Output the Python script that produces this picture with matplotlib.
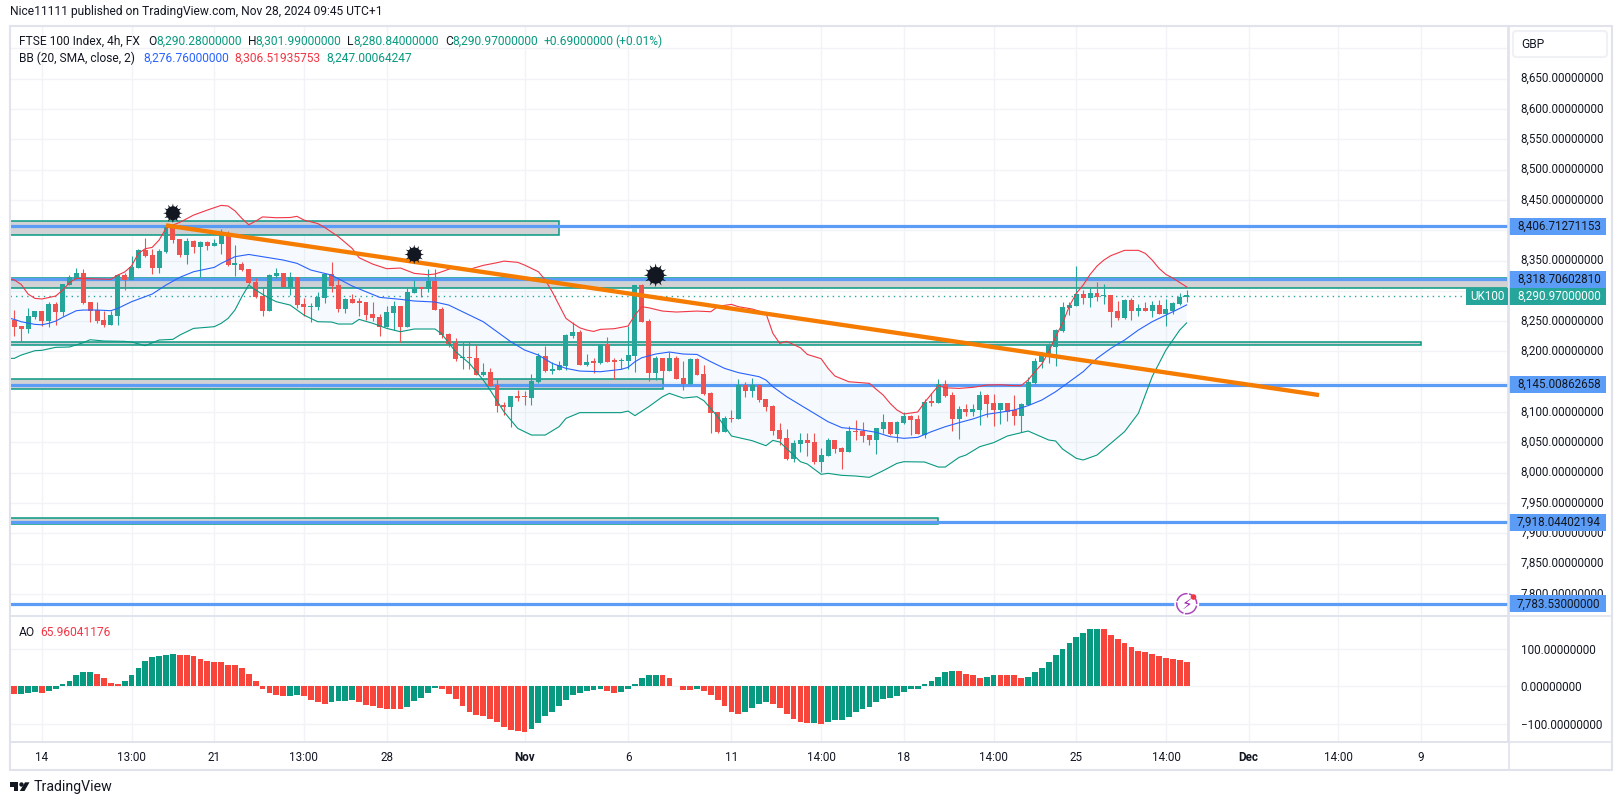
import matplotlib
matplotlib.use('Agg')
import matplotlib.pyplot as plt
from matplotlib.patches import Rectangle, Circle, Polygon, FancyBboxPatch
from matplotlib.transforms import blended_transform_factory
import numpy as np

plt.rcParams['font.family'] = ['Roboto', 'DejaVu Sans']

# 4h candles
opens = [8252,8242,8237,8257,8267,8250,8278,8265,8310,8320,
         8329,8282,8268,8252,8244,8258,8326,8318,8338,8367,
         8359,8338,8364,8405,8385,8359,8382,8372,8380,8374,
         8377,8394,8343,8344,8336,8315,8291,8267,8324,8329,
         8306,8323,8278,8273,8273,8288,8328,8310,8270,8286,
         8282,8282,8262,8257,8240,8263,8275,8240,8296,8305,
         8303,8316,8270,8229,8214,8189,8191,8189,8161,8166,
         8145,8111,8108,8126,8125,8123,8150,8192,8168,8169,
         8176,8225,8232,8178,8183,8181,8212,8184,8184,8184,
         8192,8310,8250,8164,8189,8168,8189,8156,8146,8187,
         8163,8131,8100,8067,8090,8088,8145,8135,8145,8121,
         8110,8070,8057,8022,8047,8054,8050,8017,8027,8054,
         8041,8034,8069,8069,8062,8054,8072,8084,8064,8082,
         8093,8088,8062,8116,8115,8146,8128,8088,8105,8100,
         8103,8128,8115,8103,8115,8103,8093,8112,8148,8182,
         8191,8208,8234,8272,8275,8295,8288,8296,8291,8293,
         8267,8255,8285,8267,8272,8267,8277,8262,8267,8278,
         8290.28]
highs = [8269,8242,8272,8267,8267,8282,8282,8311,8326,8338,
         8336,8282,8282,8267,8267,8326,8329,8357,8369,8387,
         8369,8369,8409,8407,8385,8387,8384,8382,8382,8385,
         8402,8399,8376,8347,8336,8321,8305,8328,8338,8329,
         8331,8323,8288,8280,8298,8328,8347,8319,8288,8295,
         8288,8282,8282,8262,8275,8283,8275,8305,8318,8306,
         8336,8336,8273,8230,8222,8215,8217,8211,8181,8173,
         8154,8116,8126,8136,8135,8163,8197,8209,8183,8184,
         8229,8249,8235,8196,8189,8212,8224,8189,8189,8242,
         8310,8311,8253,8192,8189,8199,8192,8184,8189,8189,
         8178,8133,8100,8093,8103,8154,8150,8156,8145,8121,
         8112,8082,8072,8054,8065,8065,8065,8041,8057,8054,
         8042,8077,8087,8083,8062,8074,8097,8084,8085,8100,
         8095,8095,8121,8131,8154,8153,8133,8110,8113,8113,
         8135,8130,8130,8115,8115,8128,8115,8158,8189,8199,
         8214,8237,8281,8281,8341,8301,8305,8315,8311,8293,
         8283,8286,8288,8278,8281,8283,8285,8286,8281,8296,
         8301.99]
lows = [8225,8216,8231,8254,8242,8241,8244,8258,8310,8320,
        8278,8249,8247,8240,8244,8244,8301,8318,8338,8356,
        8328,8329,8362,8379,8356,8344,8362,8323,8367,8374,
        8361,8341,8324,8333,8311,8288,8258,8267,8321,8306,
        8293,8272,8258,8249,8268,8280,8298,8265,8263,8280,
        8258,8252,8250,8225,8240,8235,8216,8240,8296,8290,
        8298,8268,8222,8207,8184,8171,8171,8161,8159,8143,
        8100,8095,8075,8118,8112,8112,8148,8166,8163,8169,
        8169,8222,8178,8176,8164,8179,8183,8154,8171,8171,
        8166,8249,8151,8153,8145,8168,8154,8136,8146,8161,
        8128,8065,8065,8067,8084,8088,8125,8125,8116,8102,
        8062,8046,8021,8018,8034,8027,8014,8001,8027,8032,
        8006,8034,8054,8050,8046,8031,8065,8062,8050,8080,
        8062,8064,8057,8110,8115,8125,8069,8055,8093,8093,
        8079,8092,8077,8080,8085,8079,8067,8112,8146,8173,
        8181,8176,8232,8260,8275,8278,8273,8283,8278,8240,
        8252,8253,8252,8258,8267,8257,8262,8242,8262,8276,
        8280.84]
closes = [8240,8237,8258,8267,8250,8278,8265,8311,8322,8329,
          8280,8267,8250,8244,8260,8326,8318,8339,8367,8357,
          8338,8366,8405,8384,8359,8382,8372,8380,8374,8379,
          8394,8343,8344,8334,8313,8290,8267,8326,8329,8306,
          8323,8277,8273,8275,8290,8328,8308,8270,8286,8280,
          8280,8260,8255,8240,8265,8275,8240,8298,8306,8303,
          8316,8268,8227,8212,8187,8191,8189,8161,8166,8143,
          8110,8108,8126,8123,8124,8151,8192,8168,8171,8178,
          8227,8232,8178,8183,8181,8212,8183,8183,8186,8194,
          8310,8249,8164,8189,8168,8189,8154,8146,8187,8161,
          8130,8098,8067,8090,8088,8145,8135,8145,8120,8108,
          8069,8055,8022,8049,8054,8049,8017,8029,8054,8039,
          8034,8069,8067,8060,8054,8074,8084,8064,8084,8093,
          8087,8064,8116,8115,8146,8126,8088,8105,8100,8105,
          8128,8113,8103,8115,8100,8093,8113,8150,8184,8192,
          8210,8235,8273,8277,8295,8288,8296,8290,8293,8265,
          8255,8285,8267,8272,8267,8277,8262,8270,8280,8290,
          8290.97]

# bollinger bands, (bar, price)
upper_bar = [-1,0,1,2,3,4,6,7,8,9,11,14,15,16,17,18,19,20,21,22,23,24,26,28,30,31,32,33,34,35,36,38,40,41,42,44,45,47,49,50,52,54,56,
             58,60,61,62,64,65,66,68,70,71,73,74,76,77,78,79,80,81,82,83,84,85,87,89,90,91,92,94,96,99,101,102,103,104,105,107,109,110,111,112,114,
             115,117,118,119,121,124,125,126,127,128,129,131,132,133,134,135,137,139,141,143,145,146,147,148,149,150,151,152,153,154,155,156,157,158,159,161,163,164,165,166,167,168,170]
upper_val = [8320.5,8318,8310.6,8294.7,8287.5,8286.5,8291.4,8301,8313.4,8320.5,8320,8318.9,8326,8331,8341,8361.8,8369.5,8371.7,8383.8,8403,8408.5,8413,8425,8433.3,8441,8440,8432,8419.5,8409,8415,8422,8420.6,8421,8422.9,8416.8,8411,8404.7,8389.3,8370,8354.6,8344,8336.5,8337.6,
             8328.8,8326.6,8327.7,8331.5,8339.8,8337.6,8335.4,8342,8346.4,8349,8347,8342.5,8331.5,8317.8,8298.5,8276.5,8254.5,8246.3,8239,8235.3,8233,8236.4,8237.5,8241.9,8260,8273.8,8272,8266.6,8265,8266.6,8265.5,8273.8,8276,8277.6,8273.8,8270,8262.8,8229.8,8213.3,8216.6,8206,
             8195,8188,8172,8159.4,8150,8147.3,8137.4,8128,8114.3,8103.3,8096.7,8100,8116,8129.7,8143.5,8140,8139,8140.7,8144.5,8145,8143.5,8143.5,8152.8,8166.5,8179.2,8199.5,8224.3,8246.3,8274.9,8295.8,8309.6,8327,8340.9,8350.8,8358,8366.8,8366.8,8361.8,8350.8,8337,8327,8321,8306.5]
mid_bar = [-1,0,1,3,4,5,6,7,8,9,10,12,14,15,17,20,22,24,26,29,30,32,34,36,39,41,43,46,49,51,53,56,
           58,61,63,65,68,70,72,74,76,78,80,82,85,88,89,90,91,93,95,97,99,101,103,105,108,109,110,112,114,
           116,118,120,122,125,127,129,131,133,135,137,139,141,143,145,147,149,151,153,155,157,159,161,163,165,167,169,170]
mid_val = [8255.6,8252.9,8249,8244.6,8244,8246.3,8250,8256.2,8261.7,8267.2,8268.3,8268.3,8267.2,8271,8282,8294.7,8309.5,8322.2,8331.5,8338.7,8345.3,8356.3,8360,8356.3,8350.8,8345.3,8334.3,8326,8307.9,8298.5,8289.2,8285.9,
           8283.2,8281.5,8276.5,8265.5,8249,8232.5,8216,8202.3,8194,8180.3,8172,8167.6,8166.5,8170.4,8173.7,8183,8189.6,8195.7,8199,8195.7,8195,8183,8172,8165,8158.3,8152.8,8141.8,8125.3,8111.5,
           8097.8,8084,8074.2,8072,8066.5,8059.3,8056.6,8058.2,8067.6,8075.8,8082.4,8088.5,8096.2,8099.5,8103.3,8110.5,8119.8,8133.5,8150,8166.6,8188.6,8205,8218.8,8235.3,8249,8260,8271,8276.8]
lower_bar = [-1,0,1,3,4,6,8,10,11,13,16,17,19,21,23,24,26,29,30,31,32,33,34,35,37,38,40,41,42,44,46,47,49,50,52,54,56,
             58,61,62,64,66,68,69,71,73,75,77,79,80,82,85,88,89,90,92,94,95,97,99,100,102,104,107,109,110,111,114,
             115,117,118,120,122,124,126,128,129,132,134,135,137,138,140,142,144,146,147,150,151,152,154,155,157,159,161,163,165,167,169,170]
lower_val = [8188.5,8188.5,8194,8201.2,8201.8,8206.7,8207.3,8214.4,8219.3,8217.2,8216.6,8215.5,8209.5,8218.8,8219.9,8227,8238,8240.8,8246.3,8254.5,8268.3,8290.3,8309.5,8301.3,8287.5,8282,8276.5,8268.3,8260,8249,8248.5,8245.2,8245.2,8252.9,8246.3,8238,8232.5,
             8237,8237,8228.7,8199.5,8180.3,8152.8,8136.3,8100.5,8073,8062,8062,8075.8,8089.5,8099,8099,8099,8101.6,8094,8108.8,8125.3,8130.8,8123,8125.3,8118.7,8092.3,8060.4,8052.7,8044.4,8053.2,8050.5,8018,
             8014.2,7997.2,7998.8,7995.5,7994.4,7992.2,8003.2,8015.3,8018,8017.5,8009.2,8009.2,8025.2,8029,8042.8,8049.4,8060.4,8065.9,8068.7,8053.8,8052.2,8039,8023.6,8020.8,8029,8048.3,8067.6,8097.8,8158.3,8202.3,8235.3,8247]

# awesome oscillator
ao_vals = [-20,-20,-17,-14,-17,-12,-6,5,15,29,37,37,34,23,10,5,15,29,48,67,
           77,80,83,85,83,83,80,72,67,64,64,58,56,48,34,15,-6,-17,-22,-25,
           -25,-22,-25,-36,-41,-47,-41,-39,-39,-36,-41,-50,-52,-58,-60,-60,-60,-55,-39,-31,
           -17,-4,-6,-20,-33,-52,-68,-76,-79,-87,-95,-109,-117,-120,-122,-114,-98,-79,-68,-52,
           -36,-22,-17,-12,-9,-6,-12,-17,-14,-6,5,21,29,31,29,21,2,-9,-9,-6,
           -12,-22,-36,-52,-68,-74,-68,-58,-47,-41,-47,-58,-74,-87,-95,-98,-98,-101,-95,-90,
           -90,-82,-68,-60,-55,-41,-33,-31,-25,-14,-6,-6,5,15,26,37,40,40,34,29,
           23,26,31,31,29,29,23,26,37,50,64,83,99,115,131,142,153,153,153,137,
           126,115,104,94,91,85,80,75,72,69,65.96]
ao_signs = ('R' + 'GGG' + 'R' + 'G'*7 + 'R'*4 + 'G'*8 + 'R'*16 + 'GG' + 'R'*4 + 'G'*4 + 'R'*7 + 'G'*5 +
            'R'*13 + 'G'*11 + 'RR' + 'G'*6 + 'R'*5 + 'G' + 'R'*6 + 'G'*4 + 'R'*6 + 'G' + 'R' + 'G'*19 +
            'R'*4 + 'GG' + 'R'*4 + 'G'*11 + 'R'*13)

# drawings
level_prices = [8406.71271153, 8318.70602810, 8145.00862658, 7918.04402194, 7783.53]
level_labels = ['8,406.71271153', '8,318.70602810', '8,145.00862658', '7,918.04402194', '7,783.53000000']
zone_tops = [8415.7, 8321.8, 8215, 8155.3, 7925.6]
zone_bottoms = [8391.5, 8305.3, 8210, 8137.4, 7916]
zone_ends = [79, 216.6, 204, 94, 134]
trend_bar = [22, 189.2]
trend_val = [8408, 8128]
star_bars = [23, 58, 93]
star_vals = [8428, 8360, 8325.6]
star_sizes = [200, 200, 290]
last_price = 8290.97

price_ticks = list(range(7800, 8701, 50))
hidden_ticks = [8300, 8400, 8700]  # sit fully under the tags and the currency box
ao_ticks = [-100, 0, 100]
time_bars = [4, 17, 29, 42, 54, 74, 89, 104, 117, 129, 142, 154, 167, 179, 192, 204]
time_labels = ['14', '13:00', '21', '13:00', '28', 'Nov', '6', '11', '14:00', '18', '14:00', '25', '14:00', 'Dec', '14:00', '9']

UP = '#26A69A'
DOWN = '#EF5350'
BLUE = '#5B9CF6'
GRID = '#F2F3F6'
EDGE = '#E0E3EB'
INK = '#131722'
W, H = 1622, 805
FS = 8.4
HFS = 8.65


def fx(x):
    return x / W


def fy(y):
    return 1 - y / H


fig = plt.figure(figsize=(W / 100, H / 100), dpi=100, facecolor='white')
ax = fig.add_axes([fx(10), fy(616), 1498 / W, 590 / H])
ao = fig.add_axes([fx(10), fy(742), 1498 / W, 126 / H], sharex=ax)
for a in (ax, ao):
    a.set_axisbelow(True)
    a.set_xlim(-0.62, 216.6)
    a.grid(True, color=GRID, linewidth=1)
    a.yaxis.tick_right()
    a.tick_params(length=0, labelsize=FS, labelcolor=INK, pad=9)
    for s in a.spines.values():
        s.set_color(EDGE)
        s.set_linewidth(1.2)
ax.set_ylim(7763.4, 8737)
ao.set_ylim(-148.7, 187.4)
ax.set_yticks(price_ticks)
ax.set_yticklabels(['' if p in hidden_ticks else f'{p:,.8f}' for p in price_ticks], va='center')
ao.set_yticks(ao_ticks)
ao.set_yticklabels(['\u2212100.00000000', '0.00000000', '100.00000000'])
ax.tick_params(axis='x', labelbottom=False)
ao.set_xticks(time_bars)
ao.set_xticklabels(time_labels)
ao.tick_params(axis='x', pad=6.5)
for lab in ao.get_xticklabels():
    if lab.get_text() in ('Nov', 'Dec'):
        lab.set_fontweight('bold')

# zones and horizontal levels
for top, bot, end in zip(zone_tops, zone_bottoms, zone_ends):
    ax.add_patch(Rectangle((-0.62, bot), end + 0.62, top - bot, facecolor='#D2D2D5', edgecolor='#089981',
                           linewidth=1.1, zorder=1.2))
for p in level_prices:
    ax.axhline(p, color=BLUE, linewidth=2.3, zorder=1.4, solid_capstyle='butt')
ax.axhline(last_price, color=UP, linewidth=1, linestyle=(0, (1, 3)), zorder=1.5)

# bollinger band
ax.fill(upper_bar + lower_bar[::-1], upper_val + lower_val[::-1], color='#2196F3', alpha=0.04, linewidth=0, zorder=1.6)

# candles
bars = np.arange(len(closes))
o = np.array(opens)
c = np.array(closes)
cols = [UP if c[i] >= o[i] else DOWN for i in bars]
ax.vlines(bars, lows, highs, colors=cols, linewidth=0.8, zorder=2)
ax.bar(bars, np.maximum(np.abs(c - o), 2.5), bottom=np.minimum(o, c), width=0.72, color=cols, linewidth=0, zorder=2.1)

ax.plot(upper_bar, upper_val, color='#F23645', linewidth=0.8, zorder=2.6)
ax.plot(mid_bar, mid_val, color='#2962FF', linewidth=0.8, zorder=2.6)
ax.plot(lower_bar, lower_val, color='#089981', linewidth=0.8, zorder=2.6)

ax.plot(trend_bar, trend_val, color='#F57C00', linewidth=3.1, zorder=3, solid_capstyle='butt')

ax.scatter(star_bars, star_vals, s=star_sizes, marker=(12, 1, 0), color=INK, linewidths=0, zorder=4)
ax.scatter(star_bars, star_vals, s=[v * 0.5 for v in star_sizes], marker='o', color=INK, linewidths=0, zorder=4)

# oscillator
ao.bar(bars, ao_vals, width=0.84, color=['#089981' if s == 'G' else '#F7453B' for s in ao_signs], linewidth=0, zorder=2)

# price tags on the scale
tr = blended_transform_factory(ax.transAxes, ax.transData)
tag_h = 17 / 0.606


def tag(price, text, bg, fg):
    ax.add_patch(Rectangle((1.0007, price - tag_h / 2), 97 / 1498, tag_h, transform=tr, facecolor=bg,
                           edgecolor='none', clip_on=False, zorder=6))
    ax.text(1.0060, price, text, transform=tr, color=fg, fontsize=FS, va='center', ha='left', clip_on=False, zorder=7)


for p, lab in zip(level_prices, level_labels):
    tag(p, lab, BLUE, INK)
tag(last_price, '8,290.97000000', UP, 'white')
ax.add_patch(Rectangle((1 - 42 / 1498, last_price - tag_h / 2), 41.5 / 1498, tag_h, transform=tr, facecolor=UP,
                       edgecolor='none', clip_on=False, zorder=6))
ax.text(1 - 21 / 1498, last_price, 'UK100', transform=tr, color='white', fontsize=FS, va='center', ha='center', zorder=7)

# outer frame, scale column and time strip
fig.add_artist(Rectangle((fx(10), fy(770)), 1602 / W, 744 / H, transform=fig.transFigure, fill=False, edgecolor=EDGE, linewidth=1.5))
fig.add_artist(plt.Line2D([fx(1508.5)] * 2, [fy(26), fy(770)], color=EDGE, linewidth=1.2))
fig.add_artist(plt.Line2D([fx(10), fx(1612)], [fy(616)] * 2, color=EDGE, linewidth=1.2))
fig.add_artist(plt.Line2D([fx(10), fx(1612)], [fy(742)] * 2, color=EDGE, linewidth=1.2))
fig.add_artist(FancyBboxPatch((fx(1513), fy(57)), 94 / W, 26 / H, boxstyle='round,pad=0,rounding_size=0.002',
                              mutation_aspect=W / H, transform=fig.transFigure, facecolor='white', edgecolor='#F0F1F5', linewidth=1.5))
fig.text(fx(1521), fy(45), 'GBP', fontsize=HFS, color=INK, va='center')

# event icon
fig.add_artist(Circle((1186.7, H - 603.7), 12.5, transform=None, facecolor='white', edgecolor='none', zorder=8))
fig.add_artist(Circle((1186.7, H - 603.7), 10, transform=None, facecolor='white', edgecolor='#AB47BC',
                      linewidth=1.1, linestyle=(0, (9, 1)), zorder=9))
fig.text(fx(1186.7), fy(604), '\u26A1', fontsize=11, color='#9C27B0', ha='center', va='center', family='DejaVu Sans', zorder=10)
fig.add_artist(Circle((1193.5, H - 597), 2.8, transform=None, facecolor='#F23645', edgecolor='none', zorder=11))

# header text
fig.text(fx(10), fy(12), 'Nice11111 published on TradingView.com, Nov 28, 2024 09:45 UTC+1', fontsize=HFS, color=INK, va='center')
green = '#089981'
row1 = [(18.7, 'FTSE 100 Index, 4h, FX', INK), (148, 'O', INK), (156, '8,290.28000000', green), (248, 'H', INK),
        (255, '8,301.99000000', green), (347, 'L', INK), (353, '8,280.84000000', green), (445, 'C', INK),
        (452, '8,290.97000000', green), (544, '+0.69000000', green), (615, '(+0.01%)', green)]
for x, t, col in row1:
    fig.text(fx(x), fy(41.5), t, fontsize=HFS, color=col, va='center')
row2 = [(18.7, 'BB (20, SMA, close, 2)', INK), (143, '8,276.76000000', '#2962FF'), (234, '8,306.51935753', '#F23645'),
        (326, '8,247.00064247', green)]
for x, t, col in row2:
    fig.text(fx(x), fy(58.5), t, fontsize=HFS, color=col, va='center')
fig.text(fx(18.7), fy(632), 'AO', fontsize=HFS, color=INK, va='center')
fig.text(fx(40), fy(632), '65.96041176', fontsize=HFS, color='#F23645', va='center')

# TradingView logo
fig.add_artist(Polygon([(fx(10), fy(782.3)), (fx(18.2), fy(782.3)), (fx(18.2), fy(791)), (fx(14), fy(791)),
                        (fx(14), fy(786.6)), (fx(10), fy(786.6))], transform=fig.transFigure, facecolor=INK, edgecolor='none'))
fig.add_artist(Circle((21.5, H - 784.5), 2.2, transform=None, facecolor=INK, edgecolor='none'))
fig.add_artist(Polygon([(fx(25), fy(782.3)), (fx(29.5), fy(782.3)), (fx(24.5), fy(791)), (fx(19.8), fy(791))],
                       transform=fig.transFigure, facecolor=INK, edgecolor='none'))
fig.text(fx(33.5), fy(787), 'TradingView', fontsize=10.2, color=INK, va='center')

fig.savefig('out.png', dpi=100)
